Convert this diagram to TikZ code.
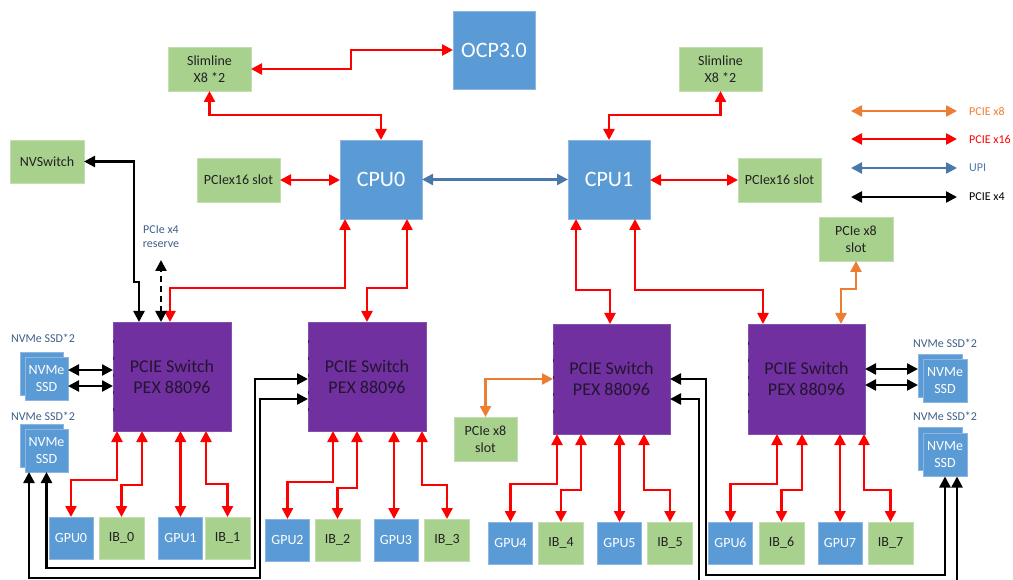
\documentclass[tikz,border=0pt]{standalone}
\usepackage{fontspec}
\setmainfont{Carlito}
\usetikzlibrary{arrows.meta,calc}
\definecolor{cblue}{HTML}{5B9BD5}
\definecolor{cblueedge}{HTML}{8DB6E2}
\definecolor{cgreen}{HTML}{A9D18E}
\definecolor{cgreenedge}{HTML}{C3DEB0}
\definecolor{cpurple}{HTML}{7030A0}
\definecolor{cpurpleedge}{HTML}{8450AE}
\definecolor{cswtext}{HTML}{24152F}
\definecolor{ctext}{HTML}{222222}
\definecolor{cred}{HTML}{FF0000}
\definecolor{corange}{HTML}{ED7D31}
\definecolor{cupi}{HTML}{4A78AA}
\definecolor{clabel}{HTML}{3E5F86}
\begin{document}
\begin{tikzpicture}[x=1pt,y=-1pt,
  bx/.style={inner sep=0pt, outer sep=0pt, align=center},
  bluebox/.style={bx, fill=cblue, draw=cblueedge, line width=0.8pt, text=white},
  greenbox/.style={bx, fill=cgreen, draw=cgreenedge, line width=0.8pt, text=ctext},
  swbox/.style={bx, fill=cpurple, draw=cpurpleedge, line width=0.8pt, text=cswtext,
    minimum width=118pt, minimum height=109pt, font=\fontsize{18}{21}\selectfont},
  cpubox/.style={bluebox, minimum width=82pt, minimum height=79pt, font=\fontsize{22}{26}\selectfont},
  smallbox/.style={font=\fontsize{14}{17}\selectfont},
  gpubox/.style={bluebox, smallbox, minimum width=44pt, minimum height=42pt},
  ibbox/.style={greenbox, smallbox, minimum width=45pt, minimum height=42pt},
  ssdbox/.style={bluebox, smallbox, minimum width=43pt, minimum height=43pt},
  tip/.tip={Triangle[length=11pt,width=11pt]},
  con/.style={line width=2.4pt, tip-tip},
  r16/.style={con, draw=cred},
  o8/.style={con, draw=corange},
  upi/.style={con, draw=cupi},
  p4/.style={con, draw=black},
  lbl/.style={inner sep=0pt, text=clabel, font=\fontsize{12}{14}\selectfont, align=center},
  swmark/.style={draw=black!45!cpurple, line width=1pt, dash pattern=on 3pt off 14pt}
]
\useasboundingbox (0,0) rectangle (1013,580);
\clip (0,0) rectangle (1013,580);

% top boxes
\node[cpubox, minimum height=78pt] (ocp) at (494,50) {OCP3.0};
\node[greenbox, smallbox, minimum width=83pt, minimum height=44pt] (slL) at (209.5,69) {Slimline\\X8 *2};
\node[greenbox, smallbox, minimum width=83pt, minimum height=44pt] (slR) at (720.5,69) {Slimline\\X8 *2};
\node[cpubox] (cpu0) at (381,179.5) {CPU0};
\node[cpubox] (cpu1) at (609,179.5) {CPU1};
\node[greenbox, smallbox, minimum width=83pt, minimum height=44pt] (slotL) at (238.5,180) {PCIex16 slot};
\node[greenbox, smallbox, minimum width=83pt, minimum height=44pt] (slotR) at (779.5,180) {PCIex16 slot};
\node[greenbox, smallbox, minimum width=74pt, minimum height=43pt] (nvsw) at (47,161.5) {NVSwitch};
\node[greenbox, smallbox, minimum width=74pt, minimum height=44pt] (x8R) at (856,239) {PCIe x8\\slot};
\node[greenbox, smallbox, minimum width=63pt, minimum height=44pt] (x8L) at (485.5,439) {PCIe x8\\slot};

% switches
\node[swbox] (sw1) at (172,376.5) {PCIE Switch\\PEX 88096};
\node[swbox] (sw2) at (367,376.5) {PCIE Switch\\PEX 88096};
\node[swbox, minimum width=117pt, minimum height=110pt] (sw3) at (611.5,379) {PCIE Switch\\PEX 88096};
\node[swbox, minimum width=117pt, minimum height=110pt] (sw4) at (806.5,379) {PCIE Switch\\PEX 88096};
\foreach \s in {sw1,sw2,sw3,sw4}
  \draw[swmark] ([yshift=-18pt]\s.north west) -- ([yshift=10pt]\s.south west);

% NVMe SSDs
\node[lbl] (nvl1) at (43,338) {NVMe SSD*2};
\node[ssdbox] (nv1b) at (41.5,374) {};
\node[ssdbox] (nv1) at (46.5,379) {NVMe\\SSD};
\node[lbl] (nvl2) at (43,416) {NVMe SSD*2};
\node[ssdbox] (nv2b) at (41.5,445.5) {};
\node[ssdbox] (nv2) at (46.5,450.5) {NVMe\\SSD};
\node[lbl] (nvl3) at (945,343) {NVMe SSD*2};
\node[ssdbox, minimum width=44pt] (nv3b) at (940,375.5) {};
\node[ssdbox, minimum width=44pt] (nv3) at (945,381) {NVMe\\SSD};
\node[lbl] (nvl4) at (945,416) {NVMe SSD*2};
\node[ssdbox, minimum width=44pt] (nv4b) at (940,449) {};
\node[ssdbox, minimum width=44pt] (nv4) at (945,455) {NVMe\\SSD};

% GPU / IB
\node[gpubox] (g0) at (71,538) {GPU0};
\node[ibbox] (ib0) at (121.5,538) {IB\_0};
\node[gpubox] (g1) at (180.5,538) {GPU1};
\node[ibbox] (ib1) at (227.5,538) {IB\_1};
\node[gpubox] (g2) at (287.5,540) {GPU2};
\node[ibbox] (ib2) at (337.5,540) {IB\_2};
\node[gpubox] (g3) at (396,540) {GPU3};
\node[ibbox] (ib3) at (447,540) {IB\_3};
\node[gpubox] (g4) at (510.5,543) {GPU4};
\node[ibbox] (ib4) at (561,543) {IB\_4};
\node[gpubox] (g5) at (619.5,543) {GPU5};
\node[ibbox] (ib5) at (670,543) {IB\_5};
\node[gpubox] (g6) at (730.5,543) {GPU6};
\node[ibbox] (ib6) at (781.5,543) {IB\_6};
\node[gpubox] (g7) at (840,543) {GPU7};
\node[ibbox] (ib7) at (890.5,543) {IB\_7};

% top connectors
\draw[r16] (ocp.west) -- ++(-102,0) |- (slL.east);
\draw[r16] (slL.south) -- ++(0,24) -| (cpu0.north);
\draw[r16] (slR.south) -- ++(0,24) -| (cpu1.north);
\draw[r16] (slotL.east) -- (slotL.east -| cpu0.west);
\draw[r16] (cpu1.east |- slotR.west) -- (slotR.west);
\draw[upi] (cpu0.east) -- (cpu1.west);

% CPU to switches
\draw[r16] ([xshift=5pt]cpu0.south west) -- ++(0,69) -| ([xshift=57pt]sw1.north west);
\draw[r16] ([xshift=67pt]cpu0.south west) -- ++(0,69) -| (sw2.north);
\draw[r16] ([xshift=8pt]cpu1.south west) -- ++(0,71) -| ([xshift=-1.5pt]sw3.north);
\draw[r16] ([xshift=67pt]cpu1.south west) -- ++(0,71) -| ([xshift=15pt]sw4.north west);

% NVSwitch and reserve
\draw[p4] ([xshift=26pt]sw1.north west) -- ++(0,-40) -- ++(-5,0) |- (nvsw.east);
\draw[p4, dash pattern=on 6pt off 4pt] ([xshift=48pt]sw1.north west) -- ++(0,-62);
\node[lbl] (rsv) at (161,237) {PCIe x4\\reserve};

% orange x8
\draw[o8] (sw3.west) -| (x8L.north);
\draw[o8] (x8R.south) -- ++(0,28) -| ([xshift=93pt]sw4.north west);

% NVMe links
\draw[p4] ([yshift=9pt]nv1.east) -- ([yshift=9pt]nv1.east -| sw1.west);
\draw[p4] ([yshift=-7pt]nv1.east) -- ([yshift=-7pt]nv1.east -| sw1.west);
\draw[p4] (nv2.south) -- ++(0,96) -- ++(208.5,0) |- ([yshift=-2.5pt]sw2.west);
\draw[p4] ([xshift=4pt]nv2.south west) -- ++(0,106) -- ++(231,0) |- ([yshift=-22.5pt]sw2.west);
\draw[p4] ([yshift=10pt]sw4.east) -- ([yshift=10pt]sw4.east -| nv3b.west);
\draw[p4] ([yshift=-6pt]sw4.east) -- ([yshift=-6pt]sw4.east -| nv3b.west);
\draw[p4] (sw3.east) -- ++(36,0) -- ++(0,196) -| (nv4.south);
\draw[p4] ([yshift=-20pt]sw3.east) -- ++(29,0) -- ++(0,190) -| ([xshift=12pt]nv4.south);

% switch 1 to GPU/IB
\draw[r16] ([xshift=4pt]sw1.south west) -- ++(0,49) -| (g0.north);
\draw[r16] ([xshift=29pt]sw1.south west) -- ++(0,54) -| (ib0.north);
\draw[r16] (sw1.south -| g1.north) -- (g1.north);
\draw[r16] ([xshift=93pt]sw1.south west) -- ++(0,53) -| (ib1.north);
% switch 2
\draw[r16] ([xshift=25pt]sw2.south west) -- ++(0,51) -| (g2.north);
\draw[r16] ([xshift=49pt]sw2.south west) -- ++(0,57) -| (ib2.north);
\draw[r16] ([xshift=-2pt]sw2.south -| g3.north) -- ([xshift=-2pt]g3.north);
\draw[r16] ([xshift=114pt]sw2.south west) -- ++(0,54) -| (ib3.north);
% switch 3
\draw[r16] ([xshift=4pt]sw3.south west) -- ++(0,50) -| (g4.north);
\draw[r16] ([xshift=28pt]sw3.south west) -- ++(0,56) -| (ib4.north);
\draw[r16] (sw3.south -| g5.north) -- (g5.north);
\draw[r16] ([xshift=91pt]sw3.south west) -- ++(0,56) -| (ib5.north);
% switch 4
\draw[r16] ([xshift=29pt]sw4.south west) -- ++(0,50) -| (g6.north);
\draw[r16] ([xshift=54pt]sw4.south west) -- ++(0,56) -| (ib6.north);
\draw[r16] (sw4.south -| g7.north) -- (g7.north);
\draw[r16] ([xshift=116pt]sw4.south west) -- ++(0,56) -| (ib7.north);

% legend
\node[inner sep=0pt, anchor=west, text=corange, font=\fontsize{12}{14}\selectfont] (lt1) at (969,111) {PCIE x8};
\node[inner sep=0pt, anchor=west, text=cred, font=\fontsize{12}{14}\selectfont] (lt2) at (969,139) {PCIE x16};
\node[inner sep=0pt, anchor=west, text=cupi, font=\fontsize{12}{14}\selectfont] (lt3) at (969,168) {UPI};
\node[inner sep=0pt, anchor=west, text=black, font=\fontsize{12}{14}\selectfont] (lt4) at (969,197) {PCIE x4};
\coordinate (lg1) at (851,111);
\coordinate (lg2) at (851,139);
\coordinate (lg3) at (851,168);
\coordinate (lg4) at (851,197);
\draw[o8] (lg1) -- ([xshift=-12pt]lt1.west);
\draw[r16] (lg2) -- ([xshift=-12pt]lt2.west);
\draw[upi] (lg3) -- ([xshift=-12pt]lt3.west);
\draw[p4] (lg4) -- ([xshift=-12pt]lt4.west);
\end{tikzpicture}
\end{document}
